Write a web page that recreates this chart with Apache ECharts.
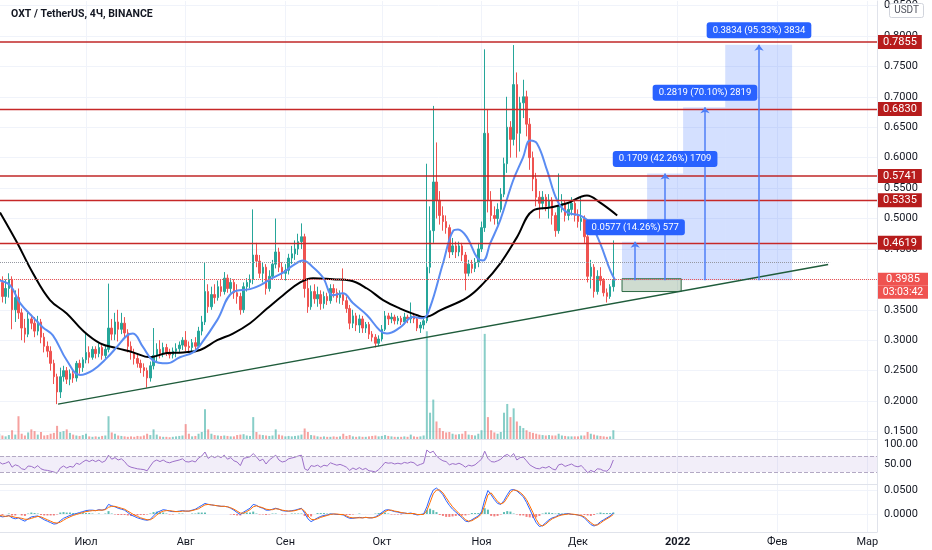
<!DOCTYPE html>
<html><head><meta charset="utf-8">
<script src="https://cdn.jsdelivr.net/npm/echarts@6/dist/echarts.min.js"></script>
<style>html,body{margin:0;padding:0;background:#fff}#c{width:932px;height:550px}</style>
</head><body><div id="c"></div><script>
// ---------- DATA (one candle per day, day 0 = 2021-06-04) ----------
const startDate = '2021-06-04';
const monthDays = [27, 58, 89, 119, 150, 180, 211, 242, 270];
const monthLabels = ['Июл', 'Авг', 'Сен', 'Окт', 'Ноя', 'Дек', '2022', 'Фев', 'Мар'];
const priceTicks = [0.15, 0.2, 0.25, 0.3, 0.35, 0.4, 0.45, 0.5, 0.55, 0.6, 0.65, 0.7, 0.75, 0.8, 0.85];
const rsiTicks = [50, 100];
const macdTicks = [0, 0.05];

// [open, close, low, high]
const ohlc = [
[.380,.395,.366,.412],[.395,.372,.362,.405],[.372,.385,.360,.400],[.385,.400,.370,.410],[.400,.350,.318,.405],
[.350,.370,.330,.382],[.370,.345,.335,.385],[.345,.320,.300,.352],[.320,.310,.296,.335],[.310,.335,.305,.345],
[.335,.328,.318,.342],[.328,.315,.305,.338],[.315,.330,.308,.340],[.330,.305,.295,.335],[.305,.290,.280,.312],
[.290,.282,.272,.298],[.282,.262,.250,.290],[.262,.240,.228,.268],[.240,.215,.195,.245],[.215,.240,.205,.255],
[.240,.250,.232,.258],[.250,.236,.228,.256],[.236,.245,.226,.252],[.245,.238,.230,.250],[.238,.262,.232,.266],
[.262,.255,.245,.268],[.255,.268,.248,.272],[.268,.280,.262,.313],[.280,.272,.262,.290],[.272,.285,.268,.290],
[.285,.278,.270,.290],[.278,.288,.272,.295],[.288,.275,.268,.292],[.275,.285,.270,.292],[.285,.320,.280,.393],
[.320,.310,.300,.335],[.310,.330,.300,.345],[.330,.318,.298,.350],[.318,.328,.310,.345],[.328,.312,.305,.338],
[.312,.290,.280,.318],[.290,.280,.268,.298],[.280,.270,.260,.286],[.270,.262,.255,.276],[.262,.255,.246,.268],
[.255,.250,.240,.262],[.250,.238,.222,.255],[.238,.258,.232,.265],[.258,.275,.252,.320],[.275,.285,.265,.295],
[.285,.278,.270,.300],[.278,.288,.272,.296],[.288,.280,.274,.294],[.280,.276,.270,.286],[.276,.282,.270,.288],
[.282,.286,.272,.295],[.286,.292,.280,.298],[.292,.300,.284,.305],[.300,.290,.282,.315],[.290,.288,.280,.298],
[.288,.296,.282,.302],[.296,.290,.283,.305],[.290,.315,.288,.322],[.315,.330,.308,.340],[.330,.380,.325,.428],
[.380,.355,.345,.392],[.355,.375,.350,.388],[.375,.370,.360,.392],[.370,.388,.365,.398],[.388,.380,.372,.400],
[.380,.402,.375,.412],[.402,.385,.378,.408],[.385,.395,.378,.402],[.395,.378,.368,.400],[.378,.372,.360,.392],
[.372,.350,.342,.378],[.350,.388,.345,.395],[.388,.395,.380,.402],[.395,.400,.385,.408],[.400,.440,.392,.515],
[.440,.430,.420,.460],[.430,.410,.402,.440],[.410,.420,.395,.428],[.420,.385,.375,.425],[.385,.405,.380,.415],
[.405,.425,.400,.432],[.425,.445,.418,.500],[.445,.420,.412,.452],[.420,.410,.400,.428],[.410,.415,.398,.425],
[.415,.435,.408,.442],[.435,.442,.425,.455],[.442,.450,.432,.464],[.450,.462,.440,.475],[.462,.470,.450,.492],
[.470,.385,.370,.475],[.385,.355,.345,.400],[.355,.380,.350,.390],[.380,.368,.360,.392],[.368,.375,.355,.388],
[.375,.360,.350,.382],[.360,.372,.352,.380],[.372,.365,.358,.378],[.365,.385,.360,.392],[.385,.378,.370,.392],
[.378,.370,.362,.385],[.370,.375,.360,.382],[.375,.365,.358,.418],[.365,.352,.345,.372],[.352,.328,.318,.358],
[.328,.340,.320,.350],[.340,.325,.315,.345],[.325,.335,.312,.342],[.335,.320,.312,.340],[.320,.326,.312,.330],
[.326,.310,.302,.330],[.310,.305,.298,.315],[.305,.295,.288,.310],[.295,.302,.290,.308],[.302,.318,.298,.325],
[.318,.340,.315,.348],[.340,.335,.325,.345],[.335,.338,.328,.345],[.338,.332,.326,.342],[.332,.336,.326,.340],
[.336,.330,.325,.340],[.330,.338,.326,.345],[.338,.335,.328,.342],[.335,.340,.328,.362],[.340,.335,.328,.345],
[.335,.320,.315,.338],[.320,.325,.312,.330],[.325,.332,.318,.338],[.332,.420,.328,.590],[.420,.480,.410,.520],
[.480,.560,.460,.685],[.560,.530,.500,.625],[.530,.505,.490,.545],[.505,.495,.480,.520],[.495,.485,.475,.505],
[.485,.445,.435,.490],[.445,.455,.440,.468],[.455,.445,.435,.462],[.445,.455,.438,.462],[.455,.440,.430,.460],
[.440,.410,.382,.445],[.410,.425,.405,.432],[.425,.418,.410,.432],[.418,.428,.412,.435],[.428,.450,.420,.460],
[.450,.485,.445,.495],[.485,.640,.478,.778],[.640,.530,.510,.680],[.530,.505,.495,.545],[.505,.500,.490,.520],
[.500,.515,.490,.525],[.515,.540,.510,.550],[.540,.590,.535,.600],[.590,.650,.575,.700],[.650,.630,.600,.660],
[.630,.720,.620,.785],[.720,.640,.600,.740],[.640,.690,.610,.700],[.690,.700,.665,.728],[.700,.655,.635,.710],
[.655,.600,.580,.665],[.600,.565,.545,.610],[.565,.535,.520,.575],[.535,.525,.500,.545],[.525,.535,.515,.545],
[.535,.520,.512,.540],[.520,.530,.500,.540],[.530,.505,.490,.535],[.505,.480,.470,.510],[.480,.520,.475,.574],
[.520,.525,.510,.540],[.525,.505,.495,.530],[.505,.515,.497,.525],[.515,.525,.505,.535],[.525,.505,.495,.530],
[.505,.495,.485,.515],[.495,.500,.480,.535],[.500,.470,.460,.505],[.470,.405,.395,.475],[.405,.420,.385,.432],
[.420,.380,.370,.425],[.380,.405,.375,.415],[.405,.398,.390,.420],[.398,.378,.372,.402],[.378,.372,.362,.385],
[.372,.388,.368,.392],[.388,.3985,.380,.464]
];

const volume = [
1.2,0.8,0.6,0.9,2.0,1.0,5.2,1.2,0.8,1.5,
2.2,1.8,1.0,1.6,0.8,0.9,1.2,1.4,3.0,1.6,
1.8,2.2,1.4,1.0,0.8,0.7,0.9,1.2,0.6,0.5,
0.6,0.5,0.7,0.8,5.2,1.5,1.2,0.8,0.7,0.6,
0.5,0.6,0.5,0.7,0.6,0.8,1.2,0.9,2.2,1.0,
0.6,0.5,0.5,0.4,0.5,0.6,0.7,0.8,3.4,1.2,
0.6,0.7,1.2,1.6,6.8,2.2,1.2,0.9,0.8,0.7,
0.8,0.7,0.6,0.6,0.9,1.0,1.1,0.8,0.7,5.0,
1.6,1.0,0.9,0.8,0.7,0.8,2.2,1.0,0.8,0.6,
0.7,0.6,0.7,0.8,1.0,2.4,1.6,0.9,0.8,0.6,
0.5,0.6,0.5,0.5,0.6,0.5,0.6,1.2,0.7,0.9,
0.6,0.5,0.6,0.5,0.5,0.6,0.7,0.8,0.6,0.7,
0.9,0.7,0.6,0.5,0.5,0.5,0.6,0.5,1.0,0.6,
0.5,0.6,0.8,24.6,6.0,9.0,4.0,2.5,1.8,1.5,
1.6,1.2,1.0,1.1,1.2,1.8,1.0,0.9,0.8,1.2,
2.0,24.0,5.0,2.0,1.5,1.2,1.6,6.0,8.0,5.0,
7.0,4.0,3.0,2.5,2.0,1.6,1.4,1.2,1.0,0.9,
0.8,0.9,0.8,0.8,1.2,0.8,0.7,0.6,0.6,0.6,
0.6,0.8,0.8,1.6,1.2,1.0,0.8,0.7,0.6,0.5,
0.6,2.0
];

// moving averages: [day, value]
const maSlow = [[0.25,.510],[5.5,.461],[10.5,.410],[15.8,.366],[21,.344],[26,.316],[31.4,.295],[36.6,.287],[41.6,.280],[46.9,.272],[52.2,.279],[57.2,.280],[62.5,.284],[67.8,.300],[72.7,.311],[78,.328],[83.3,.352],[88.3,.374],[93.6,.395],[97.6,.402],[103.8,.400],[109.1,.398],[114.4,.385],[119.4,.366],[124.7,.352],[130,.341],[131.8,.338],[134,.340],[137.1,.349],[145.5,.370],[150.5,.393],[155.8,.426],[161,.469],[166,.513],[171.3,.518],[176.6,.525],[182.8,.538],[186.9,.526],[192.2,.505]];
const maFast = [[0.25,.398],[3.4,.390],[6.5,.361],[10.5,.338],[13.6,.321],[16.7,.308],[21,.267],[25.1,.243],[29.2,.251],[33.5,.271],[36.6,.289],[39.8,.308],[41.6,.311],[44.7,.289],[47.8,.267],[52.2,.262],[56.2,.272],[60.3,.280],[62.5,.292],[67.8,.333],[72.7,.379],[78,.384],[81.1,.390],[85.2,.403],[88.3,.411],[91.4,.423],[94.5,.431],[97.6,.420],[100.7,.403],[103.8,.374],[106.9,.377],[110,.361],[114.4,.341],[118.4,.316],[120.6,.311],[124.7,.321],[128.7,.338],[131.8,.336],[134,.354],[138,.426],[141.2,.480],[142.7,.482],[145.5,.469],[148.6,.436],[150.5,.431],[152.7,.459],[155.8,.497],[159.8,.562],[162.9,.600],[165.1,.628],[167.3,.623],[170.4,.579],[173.5,.530],[176.6,.510],[180.6,.505],[183.8,.492],[186.9,.459],[190,.415],[191.6,.398]];

const rsi = [
55,50,52,56,42,48,45,38,36,45,
44,40,46,38,35,34,32,30,27,40,
45,40,44,42,52,49,55,60,56,60,
56,60,54,58,72,62,66,60,63,56,
46,42,40,38,37,36,33,45,56,60,
56,60,55,53,56,58,60,63,56,55,
58,55,65,70,80,64,70,66,70,66,
72,62,66,58,55,46,64,66,68,76,
68,58,62,50,60,66,72,60,55,57,
63,65,67,70,72,38,34,46,44,47,
42,47,45,53,50,47,49,46,42,34,
40,36,41,36,39,33,32,30,36,44,
54,52,53,50,52,50,54,52,55,53,
46,49,52,85,78,82,70,63,58,56,
48,51,49,52,48,42,47,45,48,55,
62,82,64,56,55,58,62,70,74,68,
76,60,66,67,58,48,43,39,38,42,
40,44,38,35,48,50,44,47,50,45,
43,46,38,28,34,30,38,37,33,32,
40,60
];

const macd = [
-0.004,-0.006,-0.005,-0.003,-0.008,-0.010,-0.008,-0.012,-0.015,-0.010,
-0.006,-0.005,-0.004,-0.008,-0.012,-0.015,-0.018,-0.021,-0.020,-0.014,
-0.009,-0.006,-0.003,-0.001,0.001,0.003,0.005,0.007,0.008,0.008,
0.007,0.009,0.008,0.010,0.020,0.017,0.015,0.012,0.010,0.008,
0.003,-0.002,-0.005,-0.008,-0.010,-0.012,-0.013,-0.011,-0.004,0.003,
0.006,0.009,0.008,0.006,0.005,0.005,0.006,0.007,0.006,0.006,
0.008,0.010,0.014,0.018,0.022,0.020,0.019,0.018,0.017,0.016,
0.016,0.015,0.012,0.008,0.003,-0.001,0.004,0.008,0.012,0.020,
0.018,0.014,0.012,0.008,0.008,0.010,0.012,0.010,0.007,0.006,
0.006,0.007,0.008,0.010,0.012,0.002,-0.010,-0.016,-0.012,-0.008,
-0.005,-0.003,-0.002,0.000,0.000,-0.001,-0.001,-0.002,-0.006,-0.009,
-0.009,-0.008,-0.007,-0.008,-0.007,-0.008,-0.008,-0.006,-0.002,0.003,
0.008,0.009,0.007,0.005,0.004,0.002,0.002,0.001,0.002,0.000,
-0.002,-0.001,0.000,0.015,0.035,0.050,0.054,0.048,0.040,0.028,
0.018,0.010,0.004,-0.002,-0.008,-0.015,-0.016,-0.012,-0.008,-0.004,
0.004,0.030,0.049,0.040,0.030,0.022,0.020,0.028,0.040,0.050,
0.051,0.048,0.042,0.036,0.024,0.010,-0.005,-0.018,-0.026,-0.024,
-0.018,-0.012,-0.008,-0.006,-0.002,-0.001,0.000,0.001,-0.001,-0.001,
-0.002,-0.004,-0.008,-0.015,-0.022,-0.025,-0.022,-0.016,-0.012,-0.008,
-0.004,0.002
];
const signal = [
-0.003,-0.004,-0.005,-0.004,-0.005,-0.007,-0.008,-0.009,-0.011,-0.011,
-0.009,-0.007,-0.005,-0.006,-0.009,-0.012,-0.015,-0.018,-0.019,-0.017,
-0.013,-0.009,-0.006,-0.003,-0.001,0.001,0.003,0.005,0.006,0.007,
0.007,0.008,0.008,0.009,0.014,0.016,0.016,0.014,0.012,0.010,
0.006,0.002,-0.002,-0.005,-0.008,-0.010,-0.012,-0.012,-0.008,-0.002,
0.003,0.006,0.007,0.007,0.006,0.005,0.005,0.006,0.006,0.006,
0.007,0.009,0.011,0.015,0.019,0.020,0.019,0.018,0.017,0.016,
0.016,0.015,0.013,0.010,0.006,0.002,0.002,0.005,0.009,0.015,
0.017,0.015,0.013,0.010,0.009,0.009,0.011,0.010,0.008,0.007,
0.006,0.006,0.007,0.009,0.011,0.006,-0.004,-0.011,-0.012,-0.010,
-0.007,-0.005,-0.003,-0.001,0.000,0.000,-0.001,-0.001,-0.004,-0.007,
-0.008,-0.008,-0.008,-0.008,-0.007,-0.008,-0.008,-0.007,-0.004,0.000,
0.005,0.008,0.008,0.006,0.005,0.003,0.002,0.001,0.001,0.001,
-0.001,-0.001,-0.001,0.007,0.024,0.042,0.050,0.050,0.044,0.034,
0.024,0.015,0.008,0.001,-0.005,-0.012,-0.015,-0.014,-0.010,-0.006,
0.000,0.018,0.040,0.044,0.035,0.026,0.021,0.024,0.034,0.045,
0.050,0.049,0.045,0.039,0.030,0.017,0.003,-0.011,-0.022,-0.025,
-0.021,-0.015,-0.010,-0.007,-0.004,-0.002,-0.001,0.000,0.000,-0.001,
-0.002,-0.003,-0.006,-0.012,-0.018,-0.023,-0.023,-0.019,-0.014,-0.010,
-0.006,-0.001
];
const histogram = [
-0.001,-0.002,0,0.001,-0.003,-0.003,0,-0.003,-0.004,0.001,
0.003,0.002,0.001,-0.002,-0.003,-0.003,-0.003,-0.003,-0.001,0.003,
0.004,0.003,0.003,0.002,0.002,0.002,0.002,0.002,0.002,0.001,
0,0.001,0,0.001,0.006,0.001,-0.001,-0.002,-0.002,-0.002,
-0.003,-0.004,-0.003,-0.003,-0.002,-0.002,-0.001,0.001,0.004,0.005,
0.003,0.003,0.001,-0.001,-0.001,0,0.001,0.001,0,0,
0.001,0.001,0.003,0.003,0.003,0,0,0,0,0,
0,0,-0.001,-0.002,-0.003,-0.003,0.002,0.003,0.003,0.005,
0.001,-0.001,-0.001,-0.002,-0.001,0.001,0.001,0,-0.001,-0.001,
0,0.001,0.001,0.001,0.001,-0.004,-0.006,-0.005,0,0.002,
0.002,0.002,0.001,0.001,0,-0.001,0,-0.001,-0.002,-0.002,
-0.001,0,0.001,0,0,0,0,0.001,0.002,0.003,
0.003,0.001,-0.001,-0.001,-0.001,-0.001,0,0,0.001,-0.001,
-0.001,0,0.001,0.008,0.011,0.008,0.004,-0.002,-0.004,-0.006,
-0.006,-0.005,-0.004,-0.003,-0.003,-0.003,-0.001,0.002,0.002,0.002,
0.004,0.012,0.009,-0.004,-0.005,-0.004,-0.001,0.004,0.006,0.005,
0.001,-0.001,-0.003,-0.003,-0.006,-0.007,-0.008,-0.007,-0.004,0.001,
0.003,0.003,0.002,0.001,0.002,0.001,0.001,0.001,-0.001,0,
0,-0.001,-0.002,-0.003,-0.004,-0.002,0.001,0.003,0.002,0.002,
0.002,0.003
];

// drawings (data-space values)
const levels = [0.7855, 0.6830, 0.5741, 0.5335, 0.4619];
const lastPrice = 0.3985;
const countdown = '03:03:42';
const priorHigh = 0.428, priorHighEndDay = 258.4;
const trendLine = [[18.3, 0.195], [257.8, 0.4246]];
const measureStart = [193.7, 201.5, 212.7, 225.8];
const measureEnd = [201.5, 212.7, 225.8, 246.6];
const measureMid = [197.8, 207.1, 219.5, 236.3];
const measureLevels = [0.4619, 0.5741, 0.6830, 0.7855];
const measureTexts = ['0.0577 (14.26%) 577', '0.1709 (42.26%) 1709', '0.2819 (70.10%) 2819', '0.3834 (95.33%) 3834'];
const entryBox = [[193.7, 0.380], [212.1, 0.401]];

// ---------- CHART ----------
const F = 'Roboto, "DejaVu Sans", sans-serif';
const X_MIN = 0.249, X_MAX = 273.0;
const UP = '#26a69a', DOWN = '#ef5350';

const candleData = ohlc.map((v, i) => [i, v[0], v[1], v[2], v[3]]);
const volData = volume.map((v, i) => [i, v]);

function xAx(gi, showLabel) {
  return {
    type: 'value', gridIndex: gi, min: X_MIN, max: X_MAX,
    axisLine: { show: true, onZero: false, lineStyle: { color: '#e0e3eb' } },
    axisTick: { show: false, customValues: monthDays },
    splitLine: { show: true, lineStyle: { color: '#f0f3fa', width: 1 } },
    axisLabel: {
      show: showLabel, customValues: monthDays, margin: 5, color: '#131722', fontSize: 11, fontFamily: F,
      formatter: v => { const t = monthLabels[monthDays.indexOf(v)] || ''; return /^\d+$/.test(t) ? '{b|' + t + '}' : t; },
      rich: { b: { fontWeight: 'bold', fontSize: 11, color: '#131722', fontFamily: F } }
    }
  };
}
function yAx(gi, min, max, ticks, dec, split) {
  return {
    type: 'value', gridIndex: gi, position: 'right', min: min, max: max,
    axisLine: { show: true, lineStyle: { color: '#e0e3eb' } },
    axisTick: { show: false, customValues: ticks },
    axisLabel: { customValues: ticks, formatter: v => v.toFixed(dec), color: '#131722', fontSize: 11, margin: 7, fontFamily: F },
    splitLine: { show: split, lineStyle: { color: '#f0f3fa' } }
  };
}

const tagLabel = (txt, bg) => ({
  show: true, position: 'end', distance: 1, formatter: txt, backgroundColor: bg, color: '#fff',
  padding: [2, 5, 1, 5], fontSize: 11, fontFamily: F
});

const markLines = [];
levels.forEach((v, i) => {
  const soft = (v === 0.7855 || v === 0.5741);
  markLines.push({ yAxis: v, symbol: 'none',
    lineStyle: { color: soft ? 'rgba(190,30,30,0.72)' : '#c62828', width: soft ? 2 : 1.4, type: 'solid' },
    label: tagLabel(v.toFixed(4), '#b71c1c') });
});
markLines.push({ yAxis: lastPrice, symbol: 'none',
  lineStyle: { color: '#ef5350', width: 1, type: 'dotted' },
  label: { show: true, position: 'end', distance: 1, formatter: '{s| }\n{a|' + lastPrice.toFixed(4) + '}\n{b|' + countdown + '}',
    rich: {
      s: { height: 13, lineHeight: 13, fontSize: 10 },
      a: { backgroundColor: '#ef5350', color: '#fff', width: 50, height: 13, lineHeight: 13, align: 'center', fontSize: 11, fontFamily: F },
      b: { backgroundColor: '#ef5350', color: '#fff', width: 50, height: 13, lineHeight: 13, align: 'center', fontSize: 10.5, fontFamily: F }
    } } });
markLines.push([
  { coord: [X_MIN, priorHigh], symbol: 'none', lineStyle: { color: '#9598a1', width: 1, type: 'dotted' }, label: { show: false } },
  { coord: [priorHighEndDay, priorHigh], symbol: 'none' }
]);
markLines.push([
  { coord: trendLine[0], symbol: 'none', lineStyle: { color: '#1f5c3b', width: 1.5, type: 'solid' }, label: { show: false } },
  { coord: trendLine[1], symbol: 'none' }
]);
measureMid.forEach((x, i) => {
  markLines.push([
    { coord: [x, lastPrice], symbol: 'none', lineStyle: { color: '#4f7ff7', width: 1.5, type: 'solid' }, label: { show: false } },
    { coord: [x, measureLevels[i]], symbol: 'arrow', symbolSize: [7, 6] }
  ]);
});

const markAreas = measureStart.map((s, i) => [
  { xAxis: s, yAxis: lastPrice, itemStyle: { color: 'rgba(41,98,255,0.2)' } },
  { xAxis: measureEnd[i], yAxis: measureLevels[i] }
]);
markAreas.push([
  { xAxis: entryBox[0][0], yAxis: entryBox[0][1], itemStyle: { color: 'rgba(96,140,100,0.3)', borderColor: '#2e6b45', borderWidth: 1 } },
  { xAxis: entryBox[1][0], yAxis: entryBox[1][1] }
]);

const markPoints = measureMid.map((x, i) => ({
  coord: [x, measureLevels[i]], symbol: 'rect', symbolSize: 1, itemStyle: { color: 'rgba(0,0,0,0)' },
  label: { show: true, position: 'top', distance: 6, formatter: measureTexts[i], backgroundColor: '#2962ff',
    color: '#fff', borderRadius: 3, padding: [3, 6], fontSize: 9.5, fontFamily: F }
}));

const option = {
  animation: false,
  backgroundColor: '#ffffff',
  title: { text: 'OXT / TetherUS, 4Ч, BINANCE', left: 6, top: 4,
    textStyle: { fontSize: 10.5, fontWeight: 'bold', color: '#131722', fontFamily: F } },
  graphic: [
    { type: 'rect', right: 8, top: 3, z: 100, shape: { width: 34, height: 14, r: 2 }, style: { fill: '#fff', stroke: '#d1d4dc', lineWidth: 1 } },
    { type: 'text', right: 13, top: 5, z: 101, style: { text: 'USDT', fontSize: 10, fill: '#50535e', fontFamily: F } }
  ],
  grid: [
    { left: 0, right: 55, top: 0, height: 439, containLabel: false },
    { left: 0, right: 55, top: 439, height: 45, containLabel: false },
    { left: 0, right: 55, top: 484, height: 48, containLabel: false }
  ],
  xAxis: [xAx(0, false), xAx(1, false), xAx(2, true)],
  yAxis: [
    yAx(0, 0.1377, 0.8574, priceTicks, 4, true),
    { type: 'value', gridIndex: 0, min: 0, max: 100, show: false },
    yAx(1, 0, 112.5, rsiTicks, 2, false),
    yAx(2, -0.0375, 0.0625, macdTicks, 4, true)
  ],
  series: [
    { type: 'bar', name: 'Volume', xAxisIndex: 0, yAxisIndex: 1, data: volData, barWidth: 2, z: 1,
      itemStyle: { color: p => (ohlc[p.dataIndex][1] >= ohlc[p.dataIndex][0] ? 'rgba(38,166,154,0.55)' : 'rgba(239,83,80,0.55)') } },
    { type: 'candlestick', name: 'OXT', xAxisIndex: 0, yAxisIndex: 0, data: candleData, barWidth: 2, z: 3,
      encode: { x: 0, y: [1, 2, 3, 4] },
      itemStyle: { color: UP, color0: DOWN, borderColor: UP, borderColor0: DOWN, borderWidth: 1 },
      markLine: { silent: true, symbol: ['none', 'none'], animation: false, label: { show: false }, data: markLines },
      markArea: { silent: true, data: markAreas },
      markPoint: { silent: true, data: markPoints } },
    { type: 'line', name: 'MA slow', xAxisIndex: 0, yAxisIndex: 0, data: maSlow, smooth: 0.4, showSymbol: false, z: 4,
      lineStyle: { color: '#000000', width: 2 } },
    { type: 'line', name: 'MA fast', xAxisIndex: 0, yAxisIndex: 0, data: maFast, smooth: 0.4, showSymbol: false, z: 4,
      lineStyle: { color: '#5a8cf2', width: 2 } },
    { type: 'line', name: 'RSI', xAxisIndex: 1, yAxisIndex: 2, data: rsi.map((v, i) => [i, v]), showSymbol: false,
      lineStyle: { color: '#9c6fc8', width: 1 },
      markArea: { silent: true, data: [[{ yAxis: 30, itemStyle: { color: 'rgba(126,87,194,0.1)' } }, { yAxis: 70 }]] },
      markLine: { silent: true, symbol: ['none', 'none'], label: { show: false },
        lineStyle: { color: '#b3a9c4', type: 'dashed', width: 1 }, data: [{ yAxis: 70 }, { yAxis: 30 }] } },
    { type: 'bar', name: 'Histogram', xAxisIndex: 2, yAxisIndex: 3, data: histogram.map((v, i) => [i, v]), barWidth: 2,
      itemStyle: { color: p => (p.value[1] >= 0 ? 'rgba(38,166,154,0.75)' : 'rgba(239,83,80,0.75)') } },
    { type: 'line', name: 'MACD', xAxisIndex: 2, yAxisIndex: 3, data: macd.map((v, i) => [i, v]), showSymbol: false,
      lineStyle: { color: '#2962ff', width: 1 } },
    { type: 'line', name: 'Signal', xAxisIndex: 2, yAxisIndex: 3, data: signal.map((v, i) => [i, v]), showSymbol: false,
      lineStyle: { color: '#ff6d00', width: 1 } }
  ]
};
const chart = echarts.init(document.getElementById('c'));
chart.setOption(option);
</script></body></html>
